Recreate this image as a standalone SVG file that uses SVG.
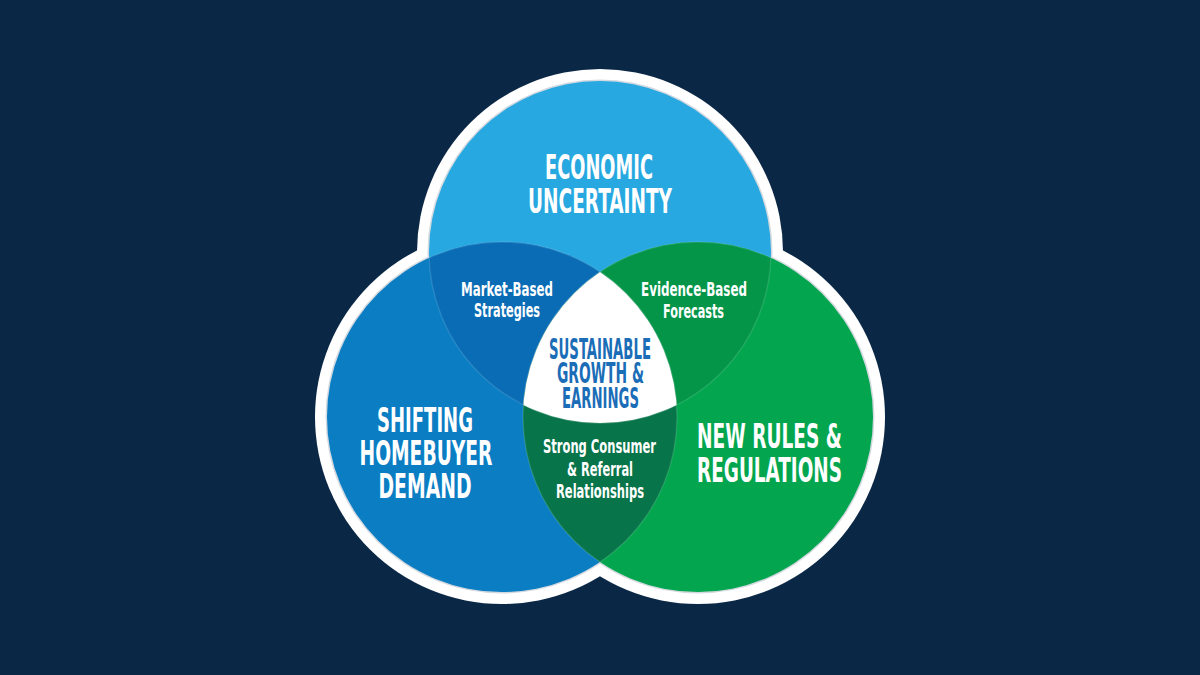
<svg xmlns="http://www.w3.org/2000/svg" width="1200" height="675" viewBox="0 0 1200 675">
  <style>
    .lbl { font-family: "Liberation Sans Narrow", "DejaVu Sans Condensed", "Liberation Sans", sans-serif; font-weight: bold; text-anchor: middle; }
    .big { font-size: 33px; fill: #ffffff; }
    .small { font-size: 19.5px; fill: #ffffff; }
    .core { font-size: 28px; fill: #1b6db7; }
    .edge { fill: none; stroke: #ffffff; stroke-opacity: 0.12; stroke-width: 1.5; }
  </style>
  <defs>
    <clipPath id="cT"><circle cx="600" cy="252" r="171"/></clipPath>
    <clipPath id="cL"><circle cx="502" cy="417" r="175"/></clipPath>
    <clipPath id="cR"><circle cx="698" cy="417" r="175"/></clipPath>
  </defs>
  <rect width="1200" height="675" fill="#0a2846"/>

  <g id="outline">
    <circle cx="600" cy="252" r="183" fill="#ffffff"/>
    <circle cx="502" cy="417" r="187" fill="#ffffff"/>
    <circle cx="698" cy="417" r="187" fill="#ffffff"/>
    <circle cx="600" cy="252" r="172.5" fill="#d3d9e0"/>
    <circle cx="502" cy="417" r="176.5" fill="#d3d9e0"/>
    <circle cx="698" cy="417" r="176.5" fill="#d3d9e0"/>
  </g>

  <g id="economic-uncertainty">
    <circle cx="600" cy="252" r="171" fill="#27a8e0"/>
  </g>
  <g id="shifting-homebuyer-demand">
    <circle cx="502" cy="417" r="175" fill="#0a7dc3"/>
  </g>
  <g id="new-rules-regulations">
    <circle cx="698" cy="417" r="175" fill="#03a64f"/>
  </g>
  <g id="market-based-strategies">
    <circle cx="502" cy="417" r="175" fill="#0a6cb5" clip-path="url(#cT)"/>
  </g>
  <g id="evidence-based-forecasts">
    <circle cx="698" cy="417" r="175" fill="#049549" clip-path="url(#cT)"/>
  </g>
  <g id="strong-consumer-referral">
    <circle cx="698" cy="417" r="175" fill="#08744a" clip-path="url(#cL)"/>
  </g>
  <g id="sustainable-growth">
    <g clip-path="url(#cL)">
      <circle cx="600" cy="252" r="171" fill="#ffffff" clip-path="url(#cR)"/>
    </g>
  </g>

  <g id="edges">
    <circle class="edge" cx="600" cy="252" r="171" clip-path="url(#cL)"/>
    <circle class="edge" cx="600" cy="252" r="171" clip-path="url(#cR)"/>
    <circle class="edge" cx="502" cy="417" r="175" clip-path="url(#cR)"/>
    <circle class="edge" cx="502" cy="417" r="175" clip-path="url(#cT)"/>
    <circle class="edge" cx="698" cy="417" r="175" clip-path="url(#cL)"/>
    <circle class="edge" cx="698" cy="417" r="175" clip-path="url(#cT)"/>
  </g>

  <g id="labels">
    <text class="lbl big" x="599" y="179" textLength="108" lengthAdjust="spacingAndGlyphs">ECONOMIC</text>
    <text class="lbl big" x="600" y="213" textLength="144" lengthAdjust="spacingAndGlyphs">UNCERTAINTY</text>

    <text class="lbl big" x="425" y="432" textLength="96" lengthAdjust="spacingAndGlyphs">SHIFTING</text>
    <text class="lbl big" x="426" y="465" textLength="133" lengthAdjust="spacingAndGlyphs">HOMEBUYER</text>
    <text class="lbl big" x="425" y="498" textLength="93" lengthAdjust="spacingAndGlyphs">DEMAND</text>

    <text class="lbl big" x="769.5" y="448" textLength="145" lengthAdjust="spacingAndGlyphs">NEW RULES &amp;</text>
    <text class="lbl big" x="769.5" y="482" textLength="145" lengthAdjust="spacingAndGlyphs">REGULATIONS</text>

    <text class="lbl small" x="507" y="296" textLength="92" lengthAdjust="spacingAndGlyphs">Market-Based</text>
    <text class="lbl small" x="507" y="317" textLength="66" lengthAdjust="spacingAndGlyphs">Strategies</text>

    <text class="lbl small" x="694" y="296" textLength="106" lengthAdjust="spacingAndGlyphs">Evidence-Based</text>
    <text class="lbl small" x="693.5" y="318" textLength="61" lengthAdjust="spacingAndGlyphs">Forecasts</text>

    <text class="lbl core" x="600" y="359" textLength="102" lengthAdjust="spacingAndGlyphs">SUSTAINABLE</text>
    <text class="lbl core" x="600.5" y="383" textLength="87" lengthAdjust="spacingAndGlyphs">GROWTH &amp;</text>
    <text class="lbl core" x="600.5" y="408" textLength="77" lengthAdjust="spacingAndGlyphs">EARNINGS</text>

    <text class="lbl small" x="599.5" y="453" textLength="113" lengthAdjust="spacingAndGlyphs">Strong Consumer</text>
    <text class="lbl small" x="600" y="476" textLength="66" lengthAdjust="spacingAndGlyphs">&amp; Referral</text>
    <text class="lbl small" x="600" y="498" textLength="88" lengthAdjust="spacingAndGlyphs">Relationships</text>
  </g>
</svg>
